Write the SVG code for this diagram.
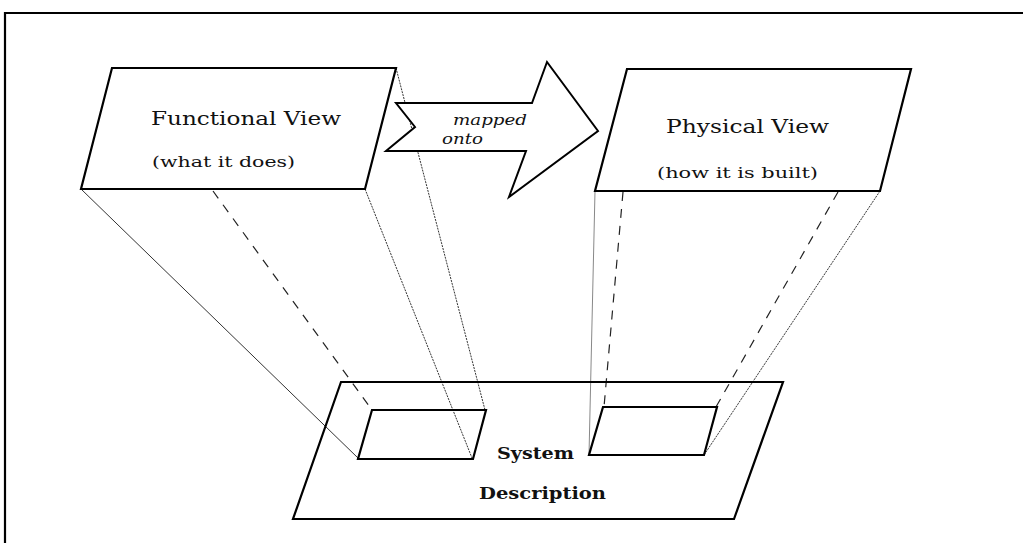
<svg xmlns="http://www.w3.org/2000/svg" width="1023" height="543" viewBox="0 0 1023 543">
  <style>
    .frame { fill: none; stroke: #000; stroke-width: 2.2; }
    .box { fill: none; stroke: #000; stroke-width: 2.2; stroke-linejoin: miter; }
    .solid { fill: none; stroke: #333; stroke-width: 1; }
    .grey { fill: none; stroke: #888; stroke-width: 1; }
    .dash { fill: none; stroke: #222; stroke-width: 1.2; stroke-dasharray: 9 8; }
    .dot { fill: none; stroke: #333; stroke-width: 1; stroke-dasharray: 2 1; }
    text { font-family: "DejaVu Serif", "Liberation Serif", serif; fill: #111; }
    .title { font-size: 18px; }
    .sub { font-size: 15px; }
    .map { font-size: 14px; font-style: italic; }
    .sys { font-size: 16px; font-weight: bold; }
  </style>

  <rect width="1023" height="543" fill="#fff"/>

  <!-- outer frame: top and left edges -->
  <path class="frame" d="M5,543 V13 H1023"/>

  <!-- projection lines from the views down to the description plate -->
  <g id="connectors">
    <line class="solid" x1="81" y1="189" x2="358" y2="458"/>
    <line class="dash" x1="213" y1="191" x2="372" y2="410"/>
    <line class="dot" x1="365" y1="189" x2="472" y2="458"/>
    <line class="dot" x1="396" y1="68" x2="485" y2="410"/>

    <line class="grey" x1="595" y1="191" x2="589" y2="455"/>
    <line class="dash" x1="623" y1="192" x2="604" y2="407"/>
    <line class="dash" x1="838" y1="192" x2="716" y2="407"/>
    <line class="dot" x1="880" y1="191" x2="704" y2="455"/>
  </g>

  <!-- functional view -->
  <g id="functional-view">
    <polygon class="box" points="112,68 396,68 365,189 81,189"/>
    <text class="title" x="151" y="125" textLength="190" lengthAdjust="spacingAndGlyphs">Functional View</text>
    <text class="sub" x="152" y="167" textLength="143" lengthAdjust="spacingAndGlyphs">(what it does)</text>
  </g>

  <!-- mapping arrow -->
  <g id="mapping-arrow">
    <polygon points="396,103 532,103 547,62 598,131 509,197 526,151 386,151 415,127" fill="#fff" stroke="#000" stroke-width="2" stroke-linejoin="miter"/>
    <text class="map" x="453" y="125" textLength="74" lengthAdjust="spacingAndGlyphs">mapped</text>
    <text class="map" x="442" y="144" textLength="41" lengthAdjust="spacingAndGlyphs">onto</text>
  </g>

  <!-- physical view -->
  <g id="physical-view">
    <polygon class="box" points="627,69 911,69 880,191 595,191"/>
    <text class="title" x="666" y="133" textLength="163" lengthAdjust="spacingAndGlyphs">Physical View</text>
    <text class="sub" x="657" y="178" textLength="161" lengthAdjust="spacingAndGlyphs">(how it is built)</text>
  </g>

  <!-- system description plate with its two footprints -->
  <g id="system-description">
    <polygon class="box" points="341,382 783,382 734,519 293,519"/>
    <text class="sys" x="497" y="459" textLength="77" lengthAdjust="spacingAndGlyphs">System</text>
    <text class="sys" x="479" y="499" textLength="127" lengthAdjust="spacingAndGlyphs">Description</text>
  </g>

  <g id="functional-footprint">
    <polygon class="box" points="372,410 486,410 473,459 358,459"/>
  </g>

  <g id="physical-footprint">
    <polygon class="box" points="603,407 717,407 704,455 589,455"/>
  </g>
</svg>
